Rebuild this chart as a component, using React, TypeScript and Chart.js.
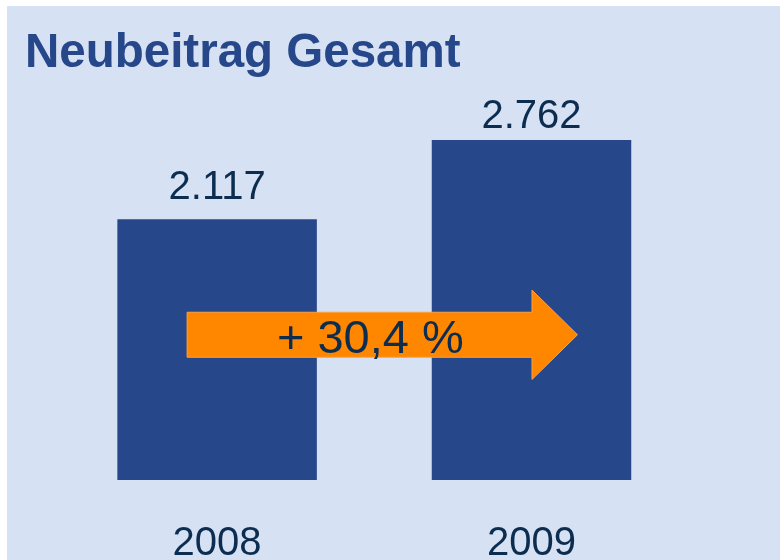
import React, { useEffect, useRef } from "react";
import { Chart, registerables } from "chart.js";

Chart.register(...registerables);

const TITLE = "Neubeitrag Gesamt";
const CATEGORIES = ["2008", "2009"];
const VALUES = [2117, 2762];
const VALUE_LABELS = ["2.117", "2.762"];
const GROWTH_LABEL = "+ 30,4 %";

const BG = "#d6e1f3";
const BAR = "#264789";
const TEXT = "#0c2d50";
const ORANGE = "#ff8700";
const FONT = "'Liberation Sans', Arial, Helvetica, sans-serif";

const overlayPlugin = {
  id: "overlay",
  afterDatasetsDraw(chart: any) {
    const ctx = chart.ctx;
    const xs = chart.scales.x;
    const ys = chart.scales.y;
    ctx.save();

    // title
    ctx.fillStyle = BAR;
    ctx.font = `bold 47.5px ${FONT}`;
    ctx.textAlign = "left";
    ctx.textBaseline = "alphabetic";
    ctx.fillText(TITLE, 18, 60.7);

    // value labels
    const meta = chart.getDatasetMeta(0);
    const gaps = [20, 12];
    ctx.fillStyle = TEXT;
    ctx.font = `40px ${FONT}`;
    ctx.textAlign = "center";
    meta.data.forEach((bar: any, i: number) => {
      ctx.fillText(VALUE_LABELS[i], bar.x, bar.y - gaps[i]);
    });

    // growth arrow
    const x0 = xs.getPixelForValue(0);
    const x1 = xs.getPixelForValue(1);
    const cy = ys.getPixelForValue(1180);
    const start = x0 - 30;
    const headBase = x1 + 0.5;
    const tip = x1 + 46;
    const shaft = 22.5;
    const head = 44.7;
    ctx.beginPath();
    ctx.moveTo(start, cy - shaft);
    ctx.lineTo(headBase, cy - shaft);
    ctx.lineTo(headBase, cy - head);
    ctx.lineTo(tip, cy);
    ctx.lineTo(headBase, cy + head);
    ctx.lineTo(headBase, cy + shaft);
    ctx.lineTo(start, cy + shaft);
    ctx.closePath();
    ctx.fillStyle = ORANGE;
    ctx.fill();
    ctx.strokeStyle = "#ffa040";
    ctx.lineWidth = 1;
    ctx.stroke();

    ctx.fillStyle = TEXT;
    ctx.font = `47px ${FONT}`;
    ctx.textAlign = "center";
    ctx.textBaseline = "alphabetic";
    ctx.fillText(GROWTH_LABEL, (x0 + x1) / 2 - 4, cy + 18);

    ctx.restore();
  },
};

export default function App() {
  const ref = useRef<HTMLCanvasElement | null>(null);

  useEffect(() => {
    if (!ref.current) return;
    const chart = new Chart(ref.current, {
      type: "bar",
      data: {
        labels: CATEGORIES,
        datasets: [
          {
            data: VALUES,
            backgroundColor: BAR,
            borderWidth: 0,
            barPercentage: 0.6345,
            categoryPercentage: 1,
          },
        ],
      },
      options: {
        animation: false,
        responsive: true,
        maintainAspectRatio: false,
        layout: { padding: { left: 52.9, right: 91.3, top: 104.6, bottom: -40.3 } },
        plugins: {
          legend: { display: false },
          tooltip: { enabled: false },
          title: { display: false },
        },
        scales: {
          x: {
            grid: { display: false },
            border: { display: false },
            ticks: {
              color: TEXT,
              font: { family: FONT, size: 40, lineHeight: 0.935 },
              padding: 37.4,
              maxRotation: 0,
            },
          },
          y: {
            display: false,
            min: 0,
            max: 3000,
          },
        },
      },
      plugins: [overlayPlugin],
    });
    return () => chart.destroy();
  }, []);

  return (
    <div
      style={{
        position: "fixed",
        left: 7,
        top: 6,
        width: 773,
        height: 554,
        background: BG,
        overflow: "hidden",
      }}
    >
      <canvas ref={ref} />
    </div>
  );
}
